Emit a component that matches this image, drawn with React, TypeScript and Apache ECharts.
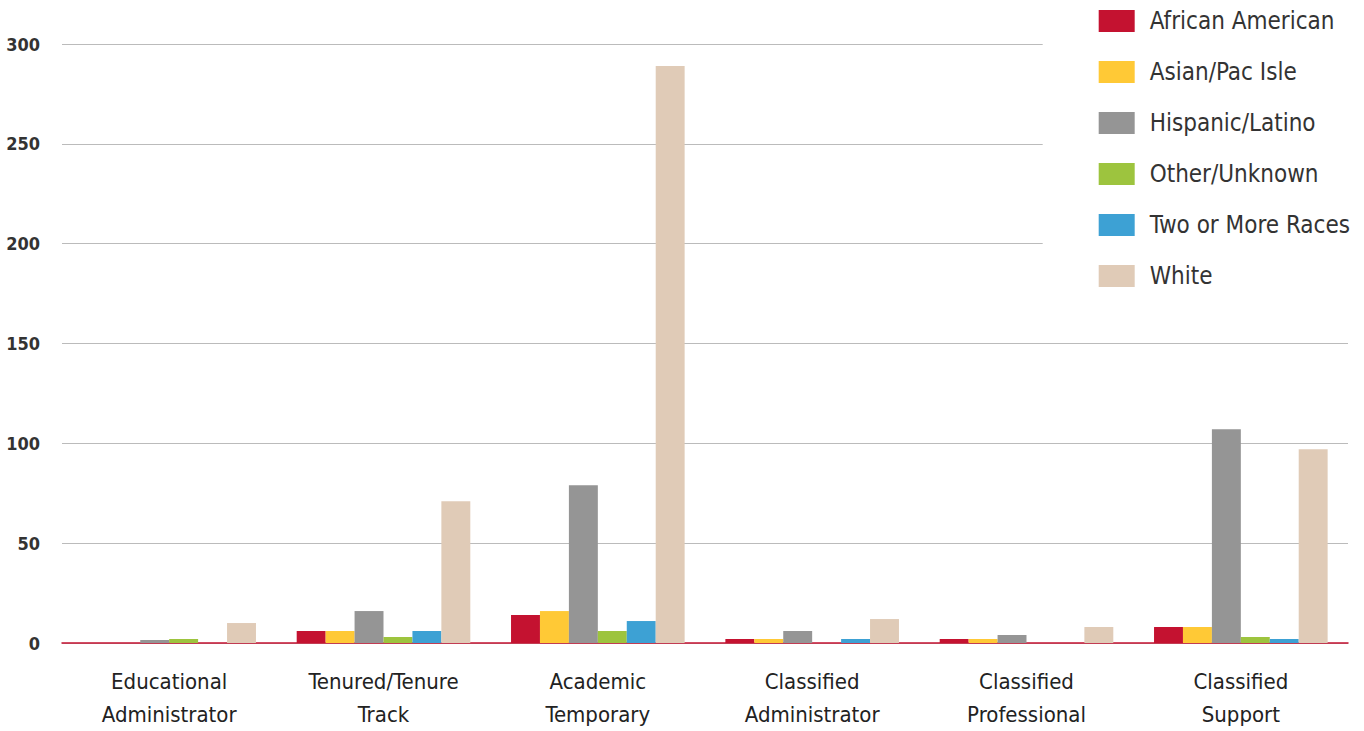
import React, { useEffect, useRef } from "react";
import * as echarts from "echarts";

const categories = [
  "Educational\nAdministrator",
  "Tenured/Tenure\nTrack",
  "Academic\nTemporary",
  "Classified\nAdministrator",
  "Classified\nProfessional",
  "Classified\nSupport",
];

const seriesNames = [
  "African American",
  "Asian/Pac Isle",
  "Hispanic/Latino",
  "Other/Unknown",
  "Two or More Races",
  "White",
];

const africanAmerican = [0, 6, 14, 2, 2, 8];
const asianPacIsle = [0, 6, 16, 2, 2, 8];
const hispanicLatino = [1.5, 16, 79, 6, 4, 107];
const otherUnknown = [2, 3, 6, 0, 0, 3];
const twoOrMore = [0, 6, 11, 2, 0, 2];
const white = [10, 71, 289, 12, 8, 97];

const seriesData = [africanAmerican, asianPacIsle, hispanicLatino, otherUnknown, twoOrMore, white];
const colors = ["#C41230", "#FFC936", "#959595", "#9DC43E", "#3DA1D4", "#E0CBB7"];

const yTicks = { min: 0, max: 300, interval: 50 };

const FONT = "'DejaVu Sans Condensed', 'Liberation Sans Narrow', 'Roboto', sans-serif";

export default function App() {
  const ref = useRef<HTMLDivElement>(null);
  useEffect(() => {
    if (!ref.current) return;
    const chart = echarts.init(ref.current, undefined, { renderer: "svg" });
    chart.setOption({
      animation: false,
      backgroundColor: "#fff",
      grid: { left: 62, right: 16, top: 44, bottom: 87, containLabel: false },
      legend: {
        data: seriesNames,
        orient: "vertical",
        right: 0,
        top: 0,
        padding: [9, 14, 12, 56],
        backgroundColor: "#fff",
        itemWidth: 36,
        itemHeight: 22,
        itemGap: 27,
        icon: "rect",
        textStyle: { fontFamily: FONT, fontSize: 24, color: "#333", padding: [0, 0, 0, 10] },
        selectedMode: false,
      },
      xAxis: {
        type: "category",
        data: categories,
        axisLine: { lineStyle: { color: "#C41230", width: 1.5 } },
        axisTick: { show: false },
        axisLabel: {
          fontFamily: FONT,
          fontSize: 22,
          color: "#222",
          lineHeight: 33,
          margin: 22,
          interval: 0,
        },
      },
      yAxis: {
        type: "value",
        min: yTicks.min,
        max: yTicks.max,
        interval: yTicks.interval,
        axisLine: { show: false },
        axisTick: { show: false },
        splitLine: { lineStyle: { color: "#bbbbbb", width: 1 } },
        axisLabel: {
          fontFamily: FONT,
          fontSize: 18,
          fontWeight: "bold",
          color: "#333",
          margin: 22,
        },
      },
      series: seriesNames.map((name, i) => ({
        name,
        type: "bar",
        data: seriesData[i],
        barGap: "0%",
        barCategoryGap: "19%",
        itemStyle: { color: colors[i] },
      })),
    });
    return () => chart.dispose();
  }, []);
  return <div ref={ref} style={{ width: 1364, height: 731, position: "absolute", left: 0, top: 0 }} />;
}
